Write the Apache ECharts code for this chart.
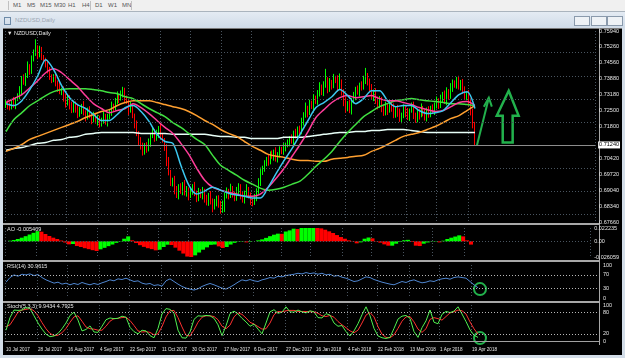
<!DOCTYPE html>
<html>
<head>
<meta charset="utf-8">
<title>NZDUSD,Daily</title>
<script src="https://cdn.jsdelivr.net/npm/echarts@6/dist/echarts.min.js"></script>
<style>
  body{margin:0;width:625px;height:358px;overflow:hidden;background:#d3dde8;position:relative;font-family:"Liberation Sans","DejaVu Sans",sans-serif}
  #toolbar{position:absolute;left:0;top:0;width:625px;height:11px;background:#f0f0f0;border-bottom:1px solid #aab4be}
  #toolbar span{position:absolute;top:2px;font-size:6px;color:#555}
  #toolbar i{position:absolute;top:1px;width:1px;height:9px;background:#c0c0c0}
  #titlebar{position:absolute;left:0;top:12px;width:625px;height:16px;background:linear-gradient(#e4ebf3,#cfdbe8)}
  #titlebar .cap{position:absolute;left:15px;top:5px;font-size:6px;color:#9aa6b2}
  #titlebar .ico{position:absolute;left:4px;top:5px;width:5px;height:6px;border:1px solid #6d8aa8}
  #titlebar b{position:absolute;top:4px;width:14px;height:8px;border:1px solid #8a9aac;background:#eef2f6}
  #chart{position:absolute;left:3px;top:28px;width:619px;height:327px;background:#000}
</style>
</head>
<body>
<div id="toolbar">
  <i style="left:8px"></i>
  <span style="left:13px">M1</span><span style="left:27px">M5</span><span style="left:40px">M15</span>
  <span style="left:54px">M30</span><span style="left:68px">H1</span><span style="left:82px">H4</span>
  <i style="left:90px"></i>
  <span style="left:95px">D1</span><span style="left:108px">W1</span><span style="left:122px">MN</span>
  <i style="left:131px"></i>
</div>
<div id="titlebar">
  <div class="ico"></div><div class="cap">NZDUSD,Daily</div>
  <b style="left:574px"></b><b style="left:591px"></b><b style="left:607px"></b>
</div>
<div id="chart"></div>
<script>
// ---- data (prices in pips, 1 pip = 0.0001) ----
const firstOpen = 7270;
const closes = [
  7285,7270,7262,7290,7275,7300,7310,
  7335,7390,7370,7400,7440,7420,
  7470,7500,7520,7490,7510,
  7480,7470,7450,
  7420,7400,7380,7395,7370,7350,7330,
  7340,7300,7280,7310,7270,
  7250,7280,7260,7230,7250,7270,7240,7220,7250,7230,
  7210,7230,7200,7215,7190,7210,7225,7200,7220,7240,
  7270,7260,7290,7310,7300,7320,7340,7300,
  7290,7250,7270,7230,7190,
  7150,7120,7090,7070,7100,7080,7110,
  7140,7160,7130,7150,7170,7140,7120,7090,
  7030,6980,6940,6950,6900,6880,6920,
  6900,6930,6890,6910,6880,6900,6920,6890,6870,6900,
  6880,6900,6870,6850,6880,6860,6830,6850,6870,6840,6820,6850,6880,
  6900,6880,6910,6890,6870,6900,6920,6880,6860,6890,6910,6880,6860,6850,6870,
  6900,6940,6980,7000,7020,
  7040,7030,7060,7050,7070,7040,7060,7080,7070,7090,7100,7110,
  7130,7120,7150,7140,7170,7160,7200,7230,
  7260,7240,7280,7270,7300,7290,7320,
  7350,7330,7360,7380,7340,7370,7360,7390,
  7380,7350,7370,7330,7290,
  7260,7280,7250,7290,7310,
  7340,7330,7360,7350,7380,7400,
  7370,7350,7310,7330,7290,7270,7300,7260,7240,
  7270,7250,7280,7260,7230,7260,7240,
  7210,7230,7260,7240,7220,7250,7270,7230,7210,7240,
  7230,7260,7240,7220,7250,7230,7260,7250,7270,7290,
  7270,7300,7320,7290,7330,7310,7350,7370,
  7360,7380,7350,7370,7340,
  7310,7320,7290,7250,7190,7124
];
const wickHi = [
  12,8,15,10,18,6,14,20,9,16,12,22,10,18,14,38,12,20,15,10,
  8,14,18,6,12,16,10,20,8,14,22,10,6,18,12,9,16,14,8,20,
  10,12,18,6,14,9,16,12,8,20,10,15,12,18,9,14,22,10,16,12,
  8,14,10,18,12,6,16,10,14,20,8,12,18,10,14,9,16,12,20,8,
  10,14,18,12,8,16,22,10,14,9,18,12,6,16,10,20,12,14,8,18,
  10,14,12,20,8,16,10,12,18,9,14,16,10,22,12,8,18,14,10,16,
  12,20,8,14,10,18,12,16,22,10,14,8,18,12,16,10,20,9,14,12,
  18,10,14,8,16,12,20,10,14,18,12,24,10,16,12,20,14,18,22,12,
  16,50,14,20,12,18,10,22,40,14,12,18,10,16,14,20,12,18,10,16,
  20,34,12,18,14,10,16,20,12,8,14,18,10,16,12,20,9,14,18,10,
  16,12,20,8,14,18,10,12,16,20,9,14,12,18,10,16,14,20,12,18,
  10,16,20,12,18,14,10,15,20,12,16,14,10,18,12,8,10
];
const wickLo = [
  10,16,12,8,14,20,10,12,18,9,14,10,16,12,8,14,18,10,12,16,
  14,10,18,12,8,16,20,10,14,12,18,9,16,12,10,20,14,8,16,12,
  18,10,14,20,12,8,16,14,10,18,12,20,9,14,16,10,12,18,8,14,
  16,12,20,10,14,18,12,22,10,16,12,14,8,18,10,16,12,20,14,10,
  16,22,12,18,20,14,10,16,12,18,9,14,20,10,16,12,18,14,10,16,
  20,12,14,18,22,10,16,12,18,14,41,12,16,10,18,14,12,20,16,10,
  14,18,12,20,16,10,14,12,18,10,16,12,20,14,10,18,12,16,14,10,
  12,18,10,16,14,20,12,10,18,14,16,12,20,10,14,18,12,16,10,14,
  18,12,16,10,20,14,12,18,10,16,22,20,14,12,18,10,16,12,20,14,
  10,16,12,18,14,20,12,16,10,18,14,12,20,10,16,14,12,18,10,16,
  14,20,12,16,10,18,14,12,20,10,16,14,18,12,10,16,20,12,14,10,
  16,12,18,14,10,20,12,16,10,14,18,12,16,20,22,18,25
];
// moving averages, one reading every 4 bars (pips)
const maStep = 4;
const ma8 = [7279,7271,7292,7340,7400,7469,7426,7357,7305,7275,7258,7232,7206,7206,7232,7262,7271,7245,7202,7146,
  7115,7107,7012,6926,6887,6900,6917,6904,6891,6883,6878,6870,6870,6917,6977,7033,7085,7146,7206,7262,
  7284,7309,7340,7314,7279,7301,7335,7335,7292,7266,7271,7271,7249,7236,7240,7249,7284,7318,7331,7258];
const ma20 = [7284,7301,7318,7348,7378,7413,7430,7413,7383,7353,7314,7279,7258,7240,7249,7258,7279,7262,7236,7206,
  7176,7150,7107,7059,6999,6947,6917,6904,6895,6887,6878,6878,6887,6917,6956,6999,7051,7102,7158,7219,
  7253,7284,7305,7314,7305,7309,7314,7301,7292,7292,7284,7275,7262,7253,7245,7249,7266,7284,7288,7271];
const ma50 = [7158,7210,7240,7271,7292,7314,7331,7340,7344,7344,7344,7340,7335,7327,7322,7309,7301,7279,7258,7240,
  7223,7197,7176,7150,7124,7102,7055,7012,6990,6969,6947,6930,6913,6904,6908,6917,6930,6943,6973,7008,
  7038,7072,7115,7154,7189,7223,7245,7266,7279,7292,7296,7301,7296,7292,7288,7284,7279,7279,7275,7271];
const ma100 = [7072,7085,7102,7124,7137,7150,7163,7176,7189,7202,7219,7232,7245,7253,7271,7284,7292,7292,7292,7284,
  7275,7266,7258,7245,7227,7206,7189,7167,7150,7137,7115,7094,7077,7059,7051,7046,7038,7033,7033,7029,
  7029,7038,7042,7046,7051,7055,7072,7085,7102,7120,7137,7146,7154,7167,7180,7197,7215,7227,7249,7271];
const ma200 = [7077,7085,7089,7098,7107,7111,7120,7124,7133,7137,7146,7150,7154,7154,7154,7154,7154,7150,7150,7150,
  7150,7146,7146,7146,7146,7146,7141,7137,7137,7133,7133,7128,7128,7128,7128,7133,7133,7133,7137,7141,
  7146,7150,7154,7154,7158,7158,7163,7163,7167,7167,7167,7163,7158,7154,7154,7154,7154,7154,7154,7154];
// indicators, one reading every 2 bars
const indStep = 2;
const aoVals = [0,11,22,39,61,86,114,142,169,161, 122,89,61,39,14,-19,-50,-44,-78,-94,
  -114,-130,-147,-161,-133,-108,-80,-53,-25,6, 44,83,17,-28,-64,-92,-114,-130,-150,-139,
  -94,-56,-61,-105,-155,-203,-253,-266,-233,-186, -139,-100,-58,-53,-83,-111,-94,-53,-25,-6,
  -6,-17,-11,0,17,33,58,86,111,128, 125,164,183,211,205,222,233,244,247,239,
  216,194,167,139,105,72,44,17,-6,-33, -17,44,64,50,6,-22,-50,-72,-72,-39,
  -11,17,25,-11,-72,-78,-39,-19,-6,-6, -17,11,39,61,80,100,83,17,-54];
const rsiVals = [48,62,70,66,72,70,73,68,71,62, 55,50,45,48,42,45,40,44,41,47,
  43,40,44,41,46,50,55,52,58,56, 60,55,50,52,45,42,44,38,40,36,
  52,58,50,42,35,30,27,24,28,35, 40,44,40,35,30,27,33,40,48,55,
  52,56,52,50,55,58,62,60,66,64, 68,70,72,75,73,77,74,76,72,75,
  70,72,66,68,63,60,55,50,52,58, 64,62,56,52,48,45,42,40,45,50,
  47,52,55,50,46,48,52,50,55,58, 60,57,62,64,62,60,50,40,31];
const stochMain = [30,65,86,85,86,93,90,70,50,33, 19,12,14,21,34,50,71,80,58,28,
  32,42,25,24,41,59,64,62,63,69, 66,38,26,20,30,28,15,9,35,75,
  90,88,77,30,9,8,25,60,70,69, 71,70,63,45,15,42,76,83,75,63,
  53,41,47,33,20,50,81,87,77,80, 95,81,80,86,81,78,84,81,65,64,
  76,72,50,41,43,26,14,28,48,73, 95,70,35,14,9,7,10,35,61,69,
  71,63,26,10,37,56,86,52,48,74, 82,79,83,95,75,54,31,16,10];
const stochSignal = [40,45,62,80,86,88,90,84,70,51, 34,21,15,16,23,35,52,67,70,55,
  39,34,33,30,30,41,55,62,63,65, 66,57,43,28,25,26,24,17,20,40,
  67,84,85,65,39,16,14,31,52,66, 70,70,68,59,41,34,44,67,78,74,
  64,52,47,40,33,34,50,73,82,81, 84,85,85,82,82,82,81,81,77,70,
  68,71,66,54,45,37,28,23,30,50, 72,79,67,40,19,10,9,17,35,55,
  67,68,53,33,24,34,60,65,62,58, 68,78,81,86,84,75,53,34,19];
// axis labels
const slots = 297;
const labelBars = [0,16,31,47,62,78,93,109,124,140,155,171,186,202,217,233];
const dateLabels = ['10 Jul 2017','28 Jul 2017','16 Aug 2017','4 Sep 2017','22 Sep 2017','11 Oct 2017',
  '30 Oct 2017','17 Nov 2017','6 Dec 2017','27 Dec 2017','16 Jan 2018','4 Feb 2018','22 Feb 2018',
  '13 Mar 2018','1 Apr 2018','19 Apr 2018'];
const priceGrid = [0.6766,0.6834,0.6904,0.6972,0.7042,0.7110,0.7180,0.7250,0.7318,0.7388,0.7456,0.7526,0.7594];
const priceLabels = [0.6766,0.6834,0.6904,0.6972,0.7042,0.7180,0.7250,0.7318,0.7388,0.7456,0.7526,0.7594];
const aoTicks = [-0.026059,0,0.022235];

const FONT = '"Liberation Sans","DejaVu Sans",sans-serif';
const GRID = '#4a5560';
const TXT = '#e6e6e6';

const cats = Array.from({length: slots}, (_, i) => {
  const j = labelBars.indexOf(i);
  return j >= 0 ? dateLabels[j] : '';
});
const isLabelBar = i => labelBars.indexOf(i) >= 0;

const candles = closes.map((c, i) => {
  const o = i === 0 ? firstOpen : closes[i - 1];
  const h = Math.max(o, c) + wickHi[i];
  const l = Math.min(o, c) - wickLo[i];
  return [o / 1e4, c / 1e4, l / 1e4, h / 1e4];
});
const lastPrice = closes[closes.length - 1] / 1e4;

function maSeries(vals, color) {
  return {type: 'line', xAxisIndex: 0, yAxisIndex: 0, z: 3, silent: true, showSymbol: false, smooth: 0.3,
    data: vals.map((v, k) => [k * maStep, v / 1e4]),
    lineStyle: {color: color, width: 1.5}};
}
function levels(vals, color) {
  return {silent: true, symbol: 'none', animation: false, label: {show: false},
    lineStyle: {color: color, type: [1, 2], width: 1},
    data: vals.map(v => ({yAxis: v}))};
}
function xAx(gi, last) {
  return {type: 'category', gridIndex: gi, data: cats, boundaryGap: true, offset: last ? 3 : 0,
    axisLine: {show: last, lineStyle: {color: '#a0a0a0', width: 1}},
    axisTick: {show: false},
    axisLabel: {show: last, interval: isLabelBar, align: 'left', color: TXT, fontSize: 4.6,
      fontFamily: FONT, margin: 3},
    splitLine: {show: true, interval: isLabelBar, lineStyle: {color: GRID, type: [1, 2], width: 1}}};
}
function yAx(gi, min, max, ticks, fmt) {
  return {type: 'value', gridIndex: gi, position: 'right', min: min, max: max,
    axisLine: {show: false}, axisTick: {show: false}, splitLine: {show: false},
    axisLabel: {customValues: ticks, formatter: fmt, color: TXT, fontSize: 5.5, fontFamily: FONT, margin: 4}};
}

const chart = echarts.init(document.getElementById('chart'));
const grids = [
  {left: 2, top: 2, width: 594, height: 192},
  {left: 2, top: 200, width: 594, height: 29},
  {left: 2, top: 237, width: 594, height: 33},
  {left: 2, top: 277, width: 594, height: 36}
];
const option = {
  animation: false,
  backgroundColor: '#000',
  grid: grids,
  xAxis: [xAx(0, false), xAx(1, false), xAx(2, false), xAx(3, true)],
  yAxis: [
    yAx(0, 0.6766, 0.7594, priceLabels, v => v.toFixed(5)),
    yAx(1, aoTicks[0], aoTicks[2], aoTicks, v => v === 0 ? '0.00' : v.toFixed(6)),
    yAx(2, 0, 100, [0, 30, 70, 100], v => String(v)),
    yAx(3, 0, 100, [0, 20, 80, 100], v => String(v))
  ],
  series: [
    {type: 'line', xAxisIndex: 0, yAxisIndex: 0, data: [], z: 1, markLine: levels(priceGrid, GRID)},
    {type: 'candlestick', xAxisIndex: 0, yAxisIndex: 0, z: 2, barWidth: 1, data: candles,
      itemStyle: {color: '#00ff00', color0: '#ff0000', borderColor: '#00ff00', borderColor0: '#ff0000', borderWidth: 1},
      markLine: {silent: true, symbol: 'none', data: [{yAxis: lastPrice}],
        lineStyle: {color: '#8c8c8c', type: 'solid', width: 1},
        label: {position: 'end', formatter: lastPrice.toFixed(5), backgroundColor: '#ffffff', color: '#000',
          fontSize: 5.5, fontFamily: FONT, padding: [1, 1, 0, 1], distance: 3}}},
    maSeries(ma200, '#e8fff8'),
    maSeries(ma100, '#ffa030'),
    maSeries(ma50, '#40e040'),
    maSeries(ma20, '#ff3d9a'),
    maSeries(ma8, '#3cc8f0'),
    {type: 'bar', xAxisIndex: 1, yAxisIndex: 1, barWidth: 4, silent: true,
      data: aoVals.map((v, k) => ({value: [k * indStep, v / 1e4],
        itemStyle: {color: (k === 0 || v >= aoVals[k - 1]) ? '#00ff00' : '#ff0000'}})),
      markLine: levels([0], GRID)},
    {type: 'line', xAxisIndex: 2, yAxisIndex: 2, showSymbol: false, silent: true,
      data: rsiVals.map((v, k) => [k * indStep, v]),
      lineStyle: {color: '#4f86d0', width: 1}, markLine: levels([30, 70], '#b8b8b8')},
    {type: 'line', xAxisIndex: 3, yAxisIndex: 3, showSymbol: false, silent: true,
      data: stochSignal.map((v, k) => [k * indStep, v]),
      lineStyle: {color: '#ff3030', width: 1}, markLine: levels([20, 80], '#b8b8b8')},
    {type: 'line', xAxisIndex: 3, yAxisIndex: 3, showSymbol: false, silent: true,
      data: stochMain.map((v, k) => [k * indStep, v]),
      lineStyle: {color: '#50f050', width: 1}}
  ]
};
chart.setOption(option);

// frame, pane separators, pane captions and the hand-drawn green marks
const px = (g, x, y) => chart.convertToPixel({xAxisIndex: g, yAxisIndex: g}, [x, y]);
const PAINT = '#22b14c';
const tip = px(0, 243, 0.7305);
const tail = px(0, 237, 0.7098);
const block = [[253, 0.7335], [258, 0.7227], [255, 0.7227], [255, 0.7111], [250, 0.7111], [250, 0.7227], [247, 0.7227]]
  .map(p => px(0, p[0], p[1]));
const rsiRing = px(2, 237, 27);
const stochRing = px(3, 237, 8);
const cap = (x, y, t) => ({type: 'text', left: x, top: y, silent: true,
  style: {text: t, fill: TXT, font: '5.5px ' + FONT}});
const bar = (x, y, w, h, c) => ({type: 'rect', silent: true, shape: {x: x, y: y, width: w, height: h}, style: {fill: c}});
chart.setOption({
  graphic: [
    bar(0, 0, 619, 1, '#7a7a7a'),
    bar(0, 195, 597, 2, '#a8a8a8'),
    bar(0, 232, 597, 2, '#a8a8a8'),
    bar(0, 273, 597, 2, '#a8a8a8'),
    bar(596, 0, 1, 317, '#a8a8a8'),
    cap(4, 2, '\u25BC NZDUSD,Daily'),
    cap(4, 198, 'AO -0.005409'),
    cap(4, 235, 'RSI(14) 30.9615'),
    cap(4, 275, 'Stoch(5,3,3) 9.9434 4.7925'),
    {type: 'polyline', silent: true, shape: {points: [tail, tip]}, style: {stroke: PAINT, lineWidth: 2, fill: null}},
    {type: 'polyline', silent: true, shape: {points: [[tip[0] - 5, tip[1] + 9], tip, [tip[0] + 3, tip[1] + 9]]},
      style: {stroke: PAINT, lineWidth: 2, fill: null}},
    {type: 'polygon', silent: true, shape: {points: block}, style: {stroke: PAINT, lineWidth: 2.5, fill: null}},
    {type: 'circle', silent: true, shape: {cx: rsiRing[0], cy: rsiRing[1], r: 6}, style: {stroke: PAINT, lineWidth: 2, fill: null}},
    {type: 'circle', silent: true, shape: {cx: stochRing[0], cy: stochRing[1], r: 6}, style: {stroke: PAINT, lineWidth: 2, fill: null}}
  ]
});
</script>
</body>
</html>
